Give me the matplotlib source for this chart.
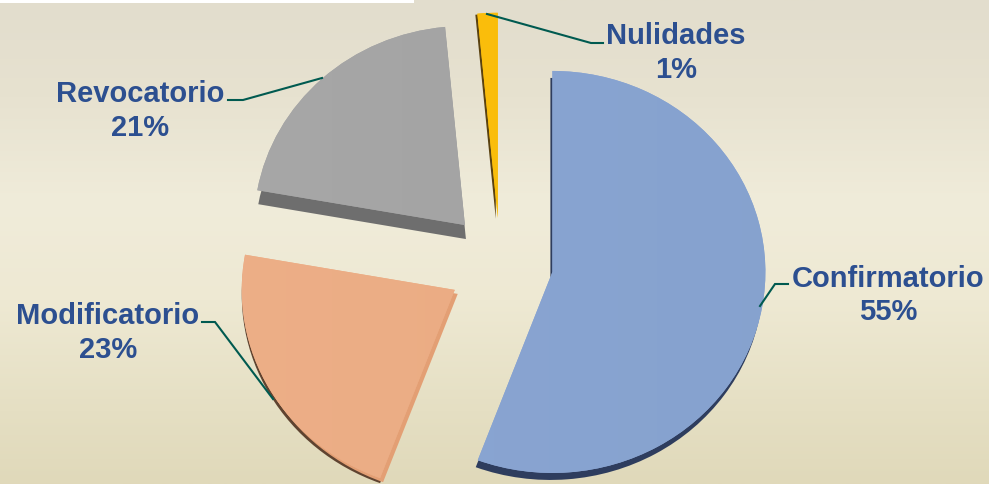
import numpy as np
import matplotlib
matplotlib.use('Agg')
import matplotlib.pyplot as plt
from matplotlib.colors import LinearSegmentedColormap
from matplotlib.transforms import Affine2D

plt.rcParams['font.family'] = ['Liberation Sans', 'DejaVu Sans']

# Data
categories = ['Confirmatorio', 'Modificatorio', 'Revocatorio', 'Nulidades']
shares = [55.7, 22.1, 20.7, 1.5]
pct_labels = ['55%', '23%', '21%', '1%']

# Styles
W, H = 989, 484
explode = [0.25, 0.25, 0.25, 0.22]
radii = [1.0, 1.0, 0.99, 1.02]
# small shift of each slice after exploding, in pixels (right, down)
nudges = [(0, 1), (1, 3), (1, 0), (0, 0)]
colors = ['#8CA6D3', '#ECAD84', '#A4A4A4', '#FBBE0A']
light = ['#8DA7D5', '#EEB08A', '#ABABAB', '#FCC20E']
dark = ['#84A1CD', '#E8A97E', '#9C9C9C', '#F8B908']
# extra copies under each slice for the fake 3D edge: slice, dx, dy, colour
sides = [
    (0, -2, 7, '#2E3D5E'),
    (1, 0, 5, '#5F4330'),
    (1, 3, 4, '#E39F74'),
    (2, 1, 14, '#6E6E6E'),
    (3, -2, 1, '#5A4210'),
]
# leader lines in pixels
leaders = [
    ([760, 775, 788], [306, 284, 284]),
    ([273, 215, 202], [399, 322, 322]),
    ([322, 243, 228], [78, 100, 100]),
    ([487, 591, 603], [14, 43, 43]),
]
label_pos = [(888, 295.5), (108, 333), (140, 111), (676, 53)]

fig = plt.figure(figsize=(W / 100, H / 100), dpi=100)

# Background
bg = fig.add_axes([0, 0, 1, 1])
bg_cmap = LinearSegmentedColormap.from_list('bg', [
    (0.0, '#E2DDCD'), (0.2, '#E7E2D0'), (0.42, '#F0ECDA'),
    (0.62, '#EEE9D3'), (0.85, '#E5DFC3'), (1.0, '#E0D9BA')])
bg.imshow(np.linspace(0, 1, 256).reshape(-1, 1), cmap=bg_cmap, aspect='auto',
          extent=(0, W, H, 0), vmin=0, vmax=1)
bg.fill_between([0, 414], 0, 2.5, color='white', lw=0)
bg.set_xlim(0, W)
bg.set_ylim(H, 0)
bg.axis('off')

# Pie, stretched a little wider than tall
ax = fig.add_axes([0, 0, 1, 1])
ax.patch.set_alpha(0)
rx, ry = 213, 201
cx, cy = 500, 262
xlim = (-cx / rx, (W - cx) / rx)
ylim = (-(H - cy) / ry, cy / ry)


def shape_slice(w, j):
    w.set_radius(radii[j])
    x, y = w.center
    w.set_center((x + nudges[j][0] / rx, y - nudges[j][1] / ry))


for i, dx, dy, col in sides:
    wedges, _ = ax.pie(shares, explode=explode, startangle=90, counterclock=False,
                       colors=colors)
    for j, w in enumerate(wedges):
        if j == i:
            w.set_facecolor(col)
            shape_slice(w, j)
            w.set_transform(ax.transData + Affine2D().translate(dx, -dy))
        else:
            w.set_visible(False)

wedges, _ = ax.pie(shares, explode=explode, startangle=90, counterclock=False,
                   colors=colors)

# soft horizontal shading inside each slice
for j, w in enumerate(wedges):
    shape_slice(w, j)
    cm = LinearSegmentedColormap.from_list('s', [light[j], dark[j]])
    im = ax.imshow(np.linspace(0, 1, 128).reshape(1, -1), cmap=cm, aspect='auto',
                   extent=(*xlim, *ylim), zorder=w.get_zorder() + 0.1)
    im.set_clip_path(w)

ax.set_aspect('auto')
ax.set_xlim(*xlim)
ax.set_ylim(*ylim)
ax.axis('off')

# Leaders and labels on top
top = fig.add_axes([0, 0, 1, 1])
top.patch.set_alpha(0)
top.set_xlim(0, W)
top.set_ylim(H, 0)
top.axis('off')
for xs, ys in leaders:
    top.plot(xs, ys, color='#005A50', lw=1.5, solid_joinstyle='miter')
for name, pct, (x, y) in zip(categories, pct_labels, label_pos):
    top.text(x, y, name + '\n' + pct, ha='center', va='center', fontsize=21,
             fontweight='bold', color='#2C4F90', linespacing=1.27)

fig.savefig('out.png', dpi=100)
